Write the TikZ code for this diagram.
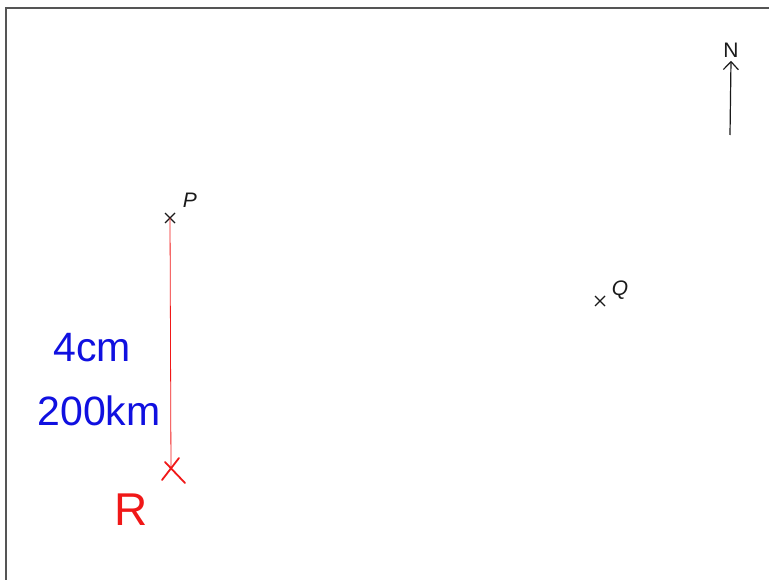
\documentclass[tikz,border=0pt]{standalone}
\usepackage{fontspec}
\setmainfont{Liberation Sans}
\usepackage{xcolor}
\usetikzlibrary{calc,arrows.meta}
\definecolor{mapink}{HTML}{1A1A1A}
\definecolor{mapframe}{HTML}{555555}
\definecolor{penred}{HTML}{F01818}
\definecolor{penblue}{HTML}{1010E0}

\begin{document}
\begin{tikzpicture}[x=1pt, y=-1pt, >={Straight Barb[length=8pt,width=15pt]},
                    every node/.style={mapink, font=\fontsize{21}{24}\selectfont},
                    pt/.style={mapink, line width=1.2pt},
                    penmark/.style={penred, line width=1.8pt, line cap=round},
                    pentext/.style={penblue, inner sep=0pt, font=\fontsize{41}{44}\selectfont}]

  \useasboundingbox (0,0) rectangle (769,580);

  %% frame of the page
  \draw[mapframe, line width=1.2pt] (6,580) -- (6,8) -- (769,8);

  %% north arrow
  \coordinate (nbase) at (730,135);
  \node (north) at (731,50) {N};
  \draw[mapink, line width=1.2pt, ->] (nbase) -- (north.south);

  %% point P
  \coordinate (P) at (170,218);
  \draw[pt] ($(P)+(-5,-5)$) -- ($(P)+(5,5)$) ($(P)+(-5,5)$) -- ($(P)+(5,-5)$);
  \node[font=\fontsize{21}{24}\selectfont\itshape] (Plabel) at (190,200) {P};

  %% point Q
  \coordinate (Q) at (600,301);
  \draw[pt] ($(Q)+(-5,-5)$) -- ($(Q)+(5,5)$) ($(Q)+(-5,5)$) -- ($(Q)+(5,-5)$);
  \node[font=\fontsize{21}{24}\selectfont\itshape] (Qlabel) at (620,290) {Q};

  %% point R, 4cm due south of P
  \coordinate (R) at (171,470);
  \draw[penred, line width=0.8pt] (P) -- (R);
  \draw[penmark] ($(R)+(-6,-8)$) -- ($(R)+(14,13)$) ($(R)+(-9,10)$) -- ($(R)+(8,-12)$);
  \node[penred, font=\fontsize{46}{48}\selectfont] (Rlabel) at (131,510) {R};

  %% scale working
  \node[pentext] (dist) at (92,348) {4cm};
  \node[pentext] (real) at (99,411) {200km};

\end{tikzpicture}
\end{document}
